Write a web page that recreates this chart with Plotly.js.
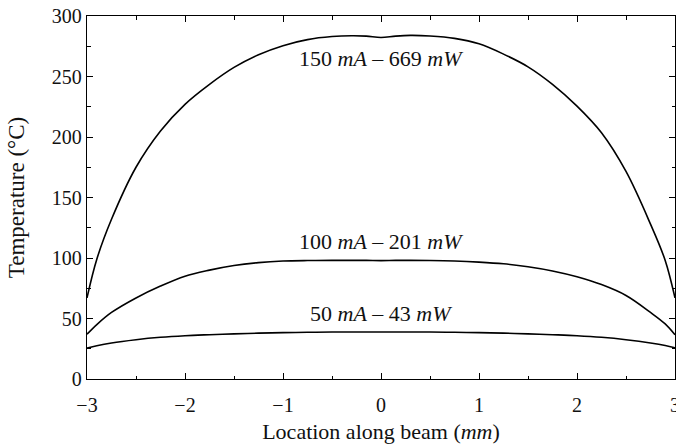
<!DOCTYPE html>
<html>
<head>
<meta charset="utf-8">
<script src="https://cdn.plot.ly/plotly-3.0.1.min.js"></script>
<style>html,body{margin:0;padding:0;background:#fff;}#chart{width:676px;height:445px;}</style>
</head>
<body>
<div id="chart"></div>
<script>
// Location along beam (mm)
const location_mm = [-3, -2.9, -2.75, -2.5, -2.25, -2, -1.75, -1.5, -1.25, -1, -0.75, -0.5, -0.3, -0.15, 0, 0.15, 0.3, 0.5, 0.75, 1, 1.25, 1.5, 1.75, 2, 2.25, 2.5, 2.75, 2.9, 3];
// Temperature (°C) for each drive current
const temp_150mA = [67, 99, 132, 175, 205, 227, 243.5, 257.5, 268, 275.5, 280.5, 283, 283.7, 283.4, 282.2, 283.4, 284, 283.5, 281.5, 277, 268.5, 258, 243.5, 225.5, 203.5, 171.5, 128, 98, 67];
const temp_100mA = [37, 45, 55, 67, 76.8, 85, 90, 93.8, 96.2, 97.5, 97.9, 98, 98, 98, 97.8, 98, 98, 97.9, 97.5, 96.6, 95.2, 92.8, 89.3, 84.5, 78, 69, 55, 45.5, 36.5];
const temp_50mA = [25.5, 27.5, 29.8, 32.5, 34.5, 35.8, 36.6, 37.3, 37.9, 38.3, 38.6, 38.8, 38.9, 38.9, 38.9, 38.9, 38.9, 38.8, 38.6, 38.3, 37.9, 37.3, 36.6, 35.8, 34.5, 32.5, 29.8, 27.7, 25.8];
const series_labels = ["150 <i>mA</i> – 669 <i>mW</i>", "100 <i>mA</i> – 201 <i>mW</i>", "50 <i>mA</i> – 43 <i>mW</i>"];
const label_x = [0, 0, 0];
const label_y = [264.5, 113.6, 54];
const x_ticks = [-3, -2, -1, 0, 1, 2, 3];
const y_ticks = [0, 50, 100, 150, 200, 250, 300];

const FONT = "Liberation Serif, DejaVu Serif, serif";
const mk = (y) => ({x: location_mm, y: y, type: 'scatter', mode: 'lines',
  line: {color: '#000', width: 1.6, shape: 'spline', smoothing: 1}, showlegend: false, hoverinfo: 'skip'});

const traces = [mk(temp_150mA), mk(temp_100mA), mk(temp_50mA)];

const axisBase = {
  showgrid: false, zeroline: false, showline: true, linecolor: '#000', linewidth: 1.3,
  mirror: 'allticks', ticks: 'inside', ticklen: 6, tickwidth: 1, tickcolor: '#000',
  ticklabeloverflow: 'allow',
  tickfont: {family: FONT, size: 20, color: '#111'}
};

const layout = {
  width: 676, height: 445,
  margin: {l: 87, r: 1, t: 16, b: 66},
  paper_bgcolor: '#fff', plot_bgcolor: '#fff',
  font: {family: FONT, color: '#111'},
  xaxis: Object.assign({}, axisBase, {
    range: [-3, 3], tickmode: 'array', tickvals: x_ticks,
    ticktext: x_ticks.map(v => v < 0 ? '\u2212' + Math.abs(v) : String(v)),
    ticklabelstandoff: 8,
    minor: {dtick: 0.5, ticks: 'inside', ticklen: 3.5, tickcolor: '#000', tickwidth: 1, showgrid: false},
    title: {text: 'Location along beam (<i>mm</i>)', font: {family: FONT, size: 22, color: '#111'}, standoff: 8}
  }),
  yaxis: Object.assign({}, axisBase, {
    range: [0, 300], tickmode: 'array', tickvals: y_ticks,
    minor: {dtick: 25, ticks: 'inside', ticklen: 3.5, tickcolor: '#000', tickwidth: 1, showgrid: false},
    title: {text: 'Temperature (°C)', font: {family: FONT, size: 23, color: '#111'}, standoff: 20}
  }),
  annotations: series_labels.map((t, i) => ({
    x: label_x[i], y: label_y[i], xref: 'x', yref: 'y', text: t, showarrow: false,
    font: {family: FONT, size: 22, color: '#111'}, xanchor: 'center', yanchor: 'middle'
  }))
};

Plotly.newPlot('chart', traces, layout, {staticPlot: true, displayModeBar: false});
</script>
</body>
</html>
